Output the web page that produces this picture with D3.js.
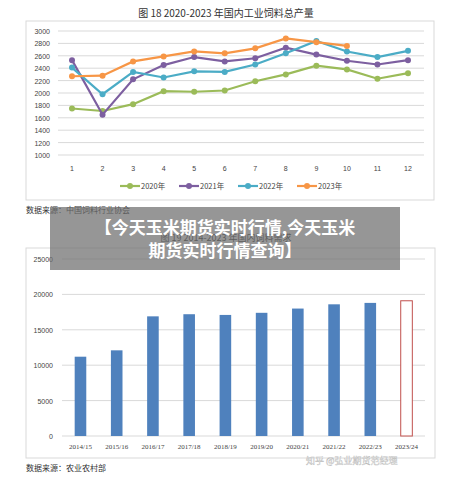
<!DOCTYPE html><html><head><meta charset="utf-8"><script src="https://cdn.jsdelivr.net/npm/d3@7"></script>
<style>body{margin:0;background:#fff}svg{font-family:"Noto Sans CJK SC",sans-serif}</style></head><body><svg id="c" width="452" height="478"></svg>
<script>
const months=[1,2,3,4,5,6,7,8,9,10,11,12];
const yearNames=["2020年","2021年","2022年","2023年"];
const colors=["#9bbb59","#7d5fa0","#4bacc6","#f79646"];
const s2020=[1750,1710,1820,2030,2020,2040,2190,2300,2440,2380,2230,2320];
const s2021=[2530,1650,2220,2450,2580,2510,2560,2730,2620,2520,2460,2530];
const s2022=[2410,1980,2340,2250,2350,2340,2460,2640,2840,2670,2580,2680];
const s2023=[2270,2280,2510,2590,2670,2640,2720,2880,2820,2760];
const series=[s2020,s2021,s2022,s2023];
const yTicks1=[1000,1200,1400,1600,1800,2000,2200,2400,2600,2800,3000];
const seasons=["2014/15","2015/16","2016/17","2017/18","2018/19","2019/20","2020/21","2021/22","2022/23","2023/24"];
const demand=[11200,12100,16900,17200,17100,17400,18000,18600,18800,19100];
const yTicks2=[0,5000,10000,15000,20000,25000];
const svg=d3.select("#c");
// top chart
svg.append("text").attr("x",226).attr("y",17).attr("text-anchor","middle").attr("font-size",10).attr("fill","#333").text("图 18 2020-2023 年国内工业饲料总产量");
svg.append("rect").attr("x",26).attr("y",21).attr("width",408).attr("height",179).attr("fill","none").attr("stroke","#d9d9d9");
const x1=d3.scalePoint().domain(months).range([72,408]);
const y1=d3.scaleLinear().domain([1000,3000]).range([155,31]);
const g1=svg.append("g");
yTicks1.forEach(t=>{g1.append("line").attr("x1",58).attr("x2",424).attr("y1",y1(t)).attr("y2",y1(t)).attr("stroke","#d9d9d9");
 g1.append("text").attr("x",50).attr("y",y1(t)+3).attr("text-anchor","end").attr("font-size",7).attr("fill","#444").attr("font-family","Liberation Sans").text(t);});
months.forEach(m=>g1.append("text").attr("x",x1(m)).attr("y",171).attr("text-anchor","middle").attr("font-size",7).attr("fill","#444").attr("font-family","Liberation Sans").text(m));
series.forEach((s,i)=>{const line=d3.line().x((d,j)=>x1(months[j])).y(d=>y1(d));
 g1.append("path").datum(s).attr("d",line).attr("fill","none").attr("stroke",colors[i]).attr("stroke-width",2.2);
 s.forEach((d,j)=>g1.append("circle").attr("cx",x1(months[j])).attr("cy",y1(d)).attr("r",3).attr("fill",colors[i]));});
yearNames.forEach((n,i)=>{const lx=120+i*59;
 g1.append("line").attr("x1",lx).attr("x2",lx+20).attr("y1",186).attr("y2",186).attr("stroke",colors[i]).attr("stroke-width",2.2);
 g1.append("circle").attr("cx",lx+10).attr("cy",186).attr("r",3).attr("fill",colors[i]);
 g1.append("text").attr("x",lx+21).attr("y",189).attr("font-size",7.5).attr("fill","#444").text(n);});
svg.append("text").attr("x",26).attr("y",213).attr("font-size",8).attr("fill","#333").text("数据来源：中国饲料行业协会");
// bottom chart
svg.append("text").attr("x",226).attr("y",241).attr("text-anchor","middle").attr("font-size",9).attr("fill","#333").text("图 19 2014-2023 年国内饲料需求");
svg.append("rect").attr("x",26).attr("y",248).attr("width",409).attr("height",210).attr("fill","none").attr("stroke","#d9d9d9");
const x2=d3.scaleBand().domain(seasons).range([62,425]).paddingInner(0.68).paddingOuter(0.35);
const y2=d3.scaleLinear().domain([0,25000]).range([436,259]);
const g2=svg.append("g");
yTicks2.forEach(t=>{g2.append("line").attr("x1",62).attr("x2",425).attr("y1",y2(t)).attr("y2",y2(t)).attr("stroke","#d9d9d9");
 g2.append("text").attr("x",53).attr("y",y2(t)+3).attr("text-anchor","end").attr("font-size",7).attr("fill","#444").attr("font-family","Liberation Sans").text(t);});
seasons.forEach((s,i)=>{const last=i===seasons.length-1;
 g2.append("rect").attr("x",x2(s)).attr("y",y2(demand[i])).attr("width",x2.bandwidth()).attr("height",y2(0)-y2(demand[i]))
  .attr("fill",last?"#fff":"#4f81bd").attr("stroke",last?"#c0504d":"none").attr("stroke-width",1);
 g2.append("text").attr("x",x2(s)+x2.bandwidth()/2).attr("y",449).attr("text-anchor","middle").attr("font-size",7).attr("fill","#444").attr("font-family","Liberation Serif").text(s);});
svg.append("text").attr("x",26).attr("y",471).attr("font-size",8).attr("fill","#333").text("数据来源：农业农村部");
svg.append("text").attr("x",306).attr("y",464).attr("font-size",9).attr("fill","#fff").attr("stroke","#bbb").attr("stroke-width",0.4).text("知乎 @弘业期货范经理");
// banner
svg.append("rect").attr("x",50).attr("y",207).attr("width",350).attr("height",63).attr("fill","rgba(110,110,110,0.72)");
svg.append("text").attr("x",225).attr("y",234).attr("text-anchor","middle").attr("font-size",17).attr("font-weight","bold").attr("fill","#fff").text("【今天玉米期货实时行情,今天玉米");
svg.append("text").attr("x",225).attr("y",257).attr("text-anchor","middle").attr("font-size",17).attr("font-weight","bold").attr("fill","#fff").text("期货实时行情查询】");
</script></body></html>
